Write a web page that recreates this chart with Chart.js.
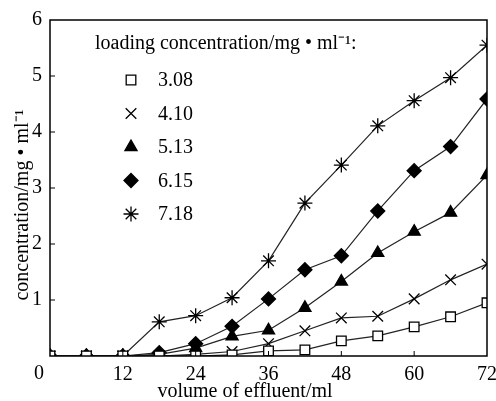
<!DOCTYPE html>
<html>
<head>
<meta charset="utf-8">
<script src="https://cdn.jsdelivr.net/npm/chart.js@4.4.0/dist/chart.umd.min.js"></script>
<style>
  body { margin: 0; background: #fff; }
  canvas { display: block; }
</style>
</head>
<body>
<canvas id="chart" width="496" height="401"></canvas>
<script>
// volume of effluent (ml)
const volumes = [0, 6, 12, 18, 24, 30, 36, 42, 48, 54, 60, 66, 72];
// loading concentrations (mg/ml)
const loadings = ['3.08', '4.10', '5.13', '6.15', '7.18'];
// effluent concentration for each loading
const c308 = [0, 0, 0, 0, 0, 0.02, 0.09, 0.11, 0.27, 0.36, 0.52, 0.70, 0.95];
const c410 = [0, 0, 0, 0, 0.03, 0.08, 0.22, 0.45, 0.68, 0.71, 1.02, 1.36, 1.64];
const c513 = [0, 0, 0, 0.03, 0.14, 0.35, 0.46, 0.86, 1.33, 1.84, 2.22, 2.56, 3.23];
const c615 = [0, 0, 0, 0.06, 0.22, 0.53, 1.02, 1.54, 1.79, 2.59, 3.31, 3.74, 4.59];
const c718 = [0, 0, 0, 0.61, 0.72, 1.04, 1.70, 2.73, 3.41, 4.11, 4.56, 4.97, 5.55];
const xTicks = [0, 12, 24, 36, 48, 60, 72];
const yTicks = [1, 2, 3, 4, 5, 6];

const FONT = "'Liberation Serif', 'Times New Roman', serif";

const markers = [
    { pointStyle: 'rect', radius: 6.8, bg: '#fff' },
    { pointStyle: 'crossRot', radius: 7.5, bg: '#000' },
    { pointStyle: 'triangle', radius: 7, bg: '#000' },
    { pointStyle: 'rectRot', radius: 7, bg: '#000' },
    { pointStyle: 'star', radius: 7.5, bg: '#000' }
];

const allSeries = [c308, c410, c513, c615, c718];

const datasets = allSeries.map((vals, i) => ({
    label: loadings[i],
    data: vals.map((v, j) => ({ x: volumes[j], y: v })),
    borderColor: '#222',
    borderWidth: 1.2,
    pointStyle: markers[i].pointStyle,
    pointRadius: markers[i].radius,
    pointBackgroundColor: markers[i].bg,
    pointBorderColor: '#000',
    pointBorderWidth: 1.3,
    tension: 0
}));

// box frame, inward tick marks, axis titles
const framePlugin = {
    id: 'frame',
    afterDatasetsDraw(chart) {
        const { ctx, chartArea: a, scales } = chart;
        ctx.save();
        ctx.strokeStyle = '#000';
        ctx.lineWidth = 1.5;
        ctx.strokeRect(a.left, a.top, a.right - a.left, a.bottom - a.top);
        ctx.lineWidth = 1;
        ctx.beginPath();
        xTicks.forEach(t => {
            if (t === 0 || t === 72) return;
            const px = scales.x.getPixelForValue(t);
            ctx.moveTo(px, a.bottom);
            ctx.lineTo(px, a.bottom - 5);
        });
        yTicks.forEach(t => {
            if (t === 6) return;
            const py = scales.y.getPixelForValue(t);
            ctx.moveTo(a.left, py);
            ctx.lineTo(a.left + 5, py);
        });
        ctx.stroke();

        ctx.fillStyle = '#000';
        ctx.font = '20px ' + FONT;
        // the origin label sits left of the corner in the original
        ctx.textAlign = 'center';
        ctx.textBaseline = 'middle';
        ctx.fillText('0', scales.x.getPixelForValue(0) - 11, 374);

        ctx.textBaseline = 'alphabetic';
        ctx.fillText('volume of effluent/ml', 245, 397);
        ctx.save();
        ctx.translate(28, 205);
        ctx.rotate(-Math.PI / 2);
        ctx.fillText('concentration/mg • ml⁻¹', 0, 0);
        ctx.restore();
        ctx.restore();
    }
};

// legend drawn inside the plot, like the original figure
const legendPlugin = {
    id: 'insideLegend',
    afterDraw(chart) {
        const ctx = chart.ctx;
        ctx.save();
        ctx.fillStyle = '#000';
        ctx.textBaseline = 'middle';
        ctx.font = '20px ' + FONT;
        ctx.fillText('loading concentration/mg • ml⁻¹:', 95, 44);
        loadings.forEach((lab, i) => {
            const y = 80 + i * 33.5;
            ctx.strokeStyle = '#000';
            ctx.fillStyle = markers[i].bg;
            ctx.lineWidth = 1.3;
            Chart.helpers.drawPoint(ctx, {
                pointStyle: markers[i].pointStyle,
                radius: markers[i].radius,
                borderWidth: 1.3
            }, 131, y);
            ctx.fillStyle = '#000';
            ctx.fillText(lab, 158, y + 1);
        });
        ctx.restore();
    }
};

new Chart(document.getElementById('chart'), {
    type: 'line',
    data: { datasets: datasets },
    options: {
        responsive: false,
        animation: false,
        layout: { padding: { top: 20, right: 9, left: 0, bottom: 0 } },
        plugins: {
            legend: { display: false },
            tooltip: { enabled: false }
        },
        scales: {
            x: {
                type: 'linear',
                min: 0,
                max: 72,
                afterFit: s => {
                    s.height = 45;
                    s.paddingLeft = 0;
                    s.paddingRight = 0;
                },
                afterBuildTicks: s => { s.ticks = xTicks.map(v => ({ value: v })); },
                grid: { display: false, drawTicks: false },
                border: { display: false },
                ticks: {
                    color: '#000',
                    padding: 7,
                    maxRotation: 0,
                    callback: v => (v === 0 ? '' : v),
                    font: { family: FONT, size: 20 }
                }
            },
            y: {
                min: 0,
                max: 6,
                afterFit: s => {
                    s.width = 50;
                    s.paddingTop = 0;
                    s.paddingBottom = 0;
                },
                afterBuildTicks: s => { s.ticks = yTicks.map(v => ({ value: v })); },
                grid: { display: false, drawTicks: false },
                border: { display: false },
                ticks: {
                    color: '#000',
                    padding: 8,
                    font: { family: FONT, size: 20 }
                }
            }
        }
    },
    plugins: [framePlugin, legendPlugin]
});
</script>
</body>
</html>
